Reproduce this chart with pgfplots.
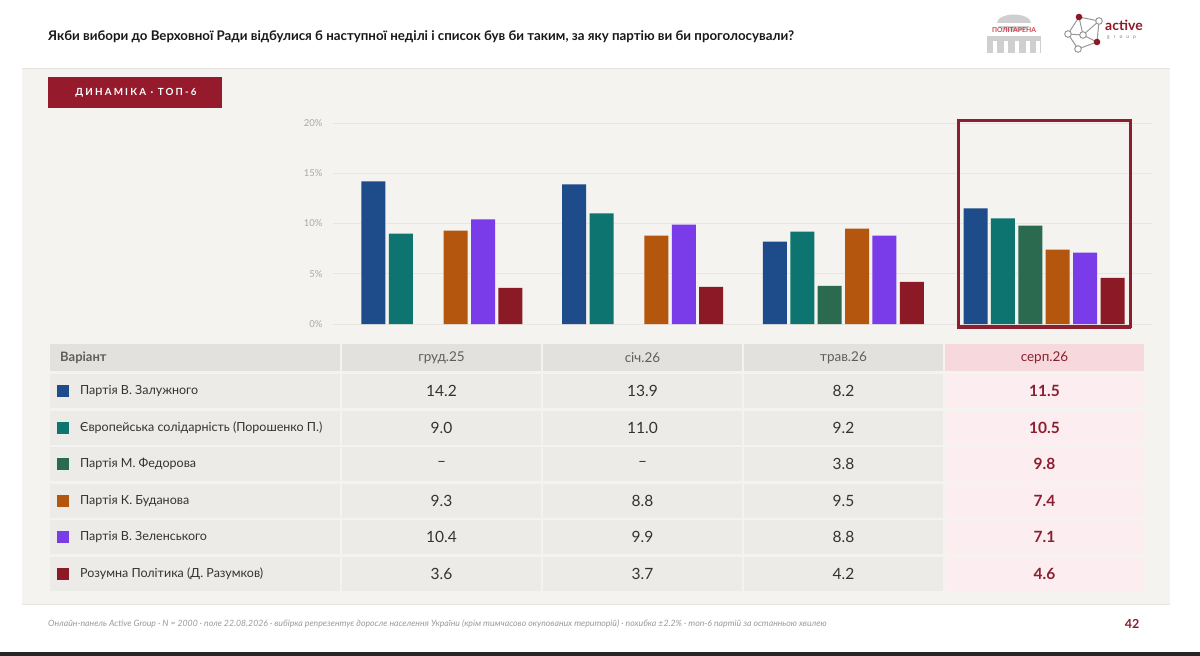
\documentclass[border=0pt]{standalone}
\usepackage{fontspec}
\setmainfont{Lato}
\usepackage{pgfplots}
\pgfplotsset{compat=1.18}
\definecolor{zal}{HTML}{1E4B8A}
\definecolor{por}{HTML}{0E7470}
\definecolor{fed}{HTML}{2C6A4F}
\definecolor{bud}{HTML}{B5560F}
\definecolor{zel}{HTML}{7A3BE8}
\definecolor{raz}{HTML}{8C1A26}
\definecolor{accent}{HTML}{951B2C}
\definecolor{boxred}{HTML}{8B1E2F}
\definecolor{panel}{HTML}{F4F3F0}
\definecolor{panelline}{HTML}{E6E4E0}
\definecolor{cell}{HTML}{ECEBE8}
\definecolor{headcell}{HTML}{E3E1DE}
\definecolor{pinkhead}{HTML}{F6D8DD}
\definecolor{pinkcell}{HTML}{FCEEF0}
\definecolor{tickgray}{HTML}{ABA8A4}
\definecolor{gridgray}{HTML}{E8E6E2}
\definecolor{txt}{HTML}{333333}
\definecolor{headtxt}{HTML}{5E5E5E}
\definecolor{foot}{HTML}{9A9A9A}
\definecolor{logogray}{HTML}{CFCFCF}
\definecolor{logored}{HTML}{D04450}
\begin{document}
\begin{tikzpicture}
\begin{scope}[x=1pt,y=-1pt]
\path[use as bounding box] (0,0) rectangle (1200,656);
\fill[white] (0,0) rectangle (1200,656);
% title
\node[anchor=west,inner sep=0,text=black!90] at (48,37) {\fontsize{13.3}{15}\selectfont\bfseries Якби вибори до Верховної Ради відбулися б наступної неділі і список був би таким, за яку партію ви би проголосували?};
% logo politarena
\fill[logogray] (1014,23) ellipse (17 and 8.5);
\fill[white] (988,23) rectangle (1040,26);
\node[inner sep=0,text=logored] at (1014,30.5) {\fontsize{6.8}{7}\selectfont\bfseries ПОЛІТАРЕНА};
\fill[logogray] (987,36) rectangle (1041,53);
\foreach \cx in {993,1004,1015,1026,1036} {\fill[white] (\cx,41) rectangle (\cx+4,53);}
% logo active
\draw[gray!80,line width=1pt] (1079,17) -- (1099,21) -- (1097,42) -- (1078,49) -- (1068,34) -- cycle;
\draw[gray!80,line width=1pt] (1079,17) -- (1083,35) -- (1099,21) (1083,35) -- (1097,42) (1083,35) -- (1068,34);
\foreach \p in {(1099,21),(1083,35),(1068,34),(1078,49)} {\filldraw[fill=white,draw=gray!80,line width=1pt] \p circle (3.3);}
\fill[raz] (1079,17) circle (3.3);
\fill[raz] (1097,42) circle (3.3);
\node[anchor=west,inner sep=0,text=raz] at (1105,25) {\fontsize{14}{15}\selectfont\bfseries active};
\node[anchor=west,inner sep=0,text=gray] at (1107,37.5) {\fontsize{5}{6}\selectfont\addfontfeatures{LetterSpace=80}group};
% panel
\fill[panel] (22,68) rectangle (1170,604);
\draw[panelline,line width=1pt] (22,68) -- (1170,68);
\draw[panelline,line width=1pt] (22,604) -- (1170,604);
% badge
\fill[accent] (48,77) rectangle (222,108);
\node[inner sep=0,text=white] at (136,92.5) {\fontsize{9.8}{10}\selectfont\bfseries\addfontfeatures{LetterSpace=22}ДИНАМІКА · ТОП-6};
% table header
\fill[headcell] (50,344) rectangle (340,371);
\foreach \xa/\xb in {342/541,543/742,744/943} {\fill[headcell] (\xa,344) rectangle (\xb,371);}
\fill[pinkhead] (945,344) rectangle (1144,371);
\node[anchor=west,inner sep=0,text=headtxt] at (60,357.5) {\fontsize{13}{14}\selectfont\bfseries Варіант};
\node[inner sep=0,text=headtxt] at (441.5,357.5) {\fontsize{13.5}{14}\selectfont груд.25};
\node[inner sep=0,text=headtxt] at (642.5,357.5) {\fontsize{13.5}{14}\selectfont січ.26};
\node[inner sep=0,text=headtxt] at (843.5,357.5) {\fontsize{13.5}{14}\selectfont трав.26};
\node[inner sep=0,text=boxred] at (1044.5,357.5) {\fontsize{13.5}{14}\selectfont серп.26};
% table rows
\foreach \i/\c/\name/\va/\vb/\vc/\vd in {
 0/zal/Партія В. Залужного/14.2/13.9/8.2/11.5,
 1/por/Європейська солідарність (Порошенко П.)/9.0/11.0/9.2/10.5,
 2/fed/Партія М. Федорова/–/–/3.8/9.8,
 3/bud/Партія К. Буданова/9.3/8.8/9.5/7.4,
 4/zel/Партія В. Зеленського/10.4/9.9/8.8/7.1,
 5/raz/Розумна Політика (Д. Разумков)/3.6/3.7/4.2/4.6} {
  \pgfmathsetmacro{\yc}{391+36.6*\i}
  \fill[cell] (50,\yc-17) rectangle (340,\yc+17);
  \foreach \xa/\xb in {342/541,543/742,744/943} {\fill[cell] (\xa,\yc-17) rectangle (\xb,\yc+17);}
  \fill[pinkcell] (945,\yc-17) rectangle (1144,\yc+17);
  \fill[\c] (57,\yc-6) rectangle (69,\yc+6);
  \node[anchor=west,inner sep=0,text=txt] at (80,\yc) {\fontsize{12.5}{14}\selectfont \name};
  \node[inner sep=0,text=txt] at (441.5,\yc) {\fontsize{15.5}{16}\selectfont \va};
  \node[inner sep=0,text=txt] at (642.5,\yc) {\fontsize{15.5}{16}\selectfont \vb};
  \node[inner sep=0,text=txt] at (843.5,\yc) {\fontsize{15.5}{16}\selectfont \vc};
  \node[inner sep=0,text=boxred] at (1044.5,\yc) {\fontsize{15.5}{16}\selectfont\bfseries \vd};
}
% footer
\node[anchor=west,inner sep=0,text=foot] at (48,624) {\fontsize{8.7}{9}\selectfont\itshape Онлайн-панель Active Group · N = 2000 · поле 22.08.2026 · вибірка репрезентує доросле населення України (крім тимчасово окупованих територій) · похибка ±2.2\% · топ-6 партій за останньою хвилею};
\node[inner sep=0,text=boxred] at (1132,624) {\fontsize{12.5}{13}\selectfont\bfseries 42};
\fill[black!85] (0,652) rectangle (1200,656);
\end{scope}
\begin{axis}[
  at={(333pt,-324pt)}, anchor=south west,
  scale only axis, width=819pt, height=201pt,
  xmin=-0.543, xmax=3.538, ymin=0, ymax=20,
  enlargelimits=false,
  ybar=3.4pt, bar width=24pt,
  axis line style={draw=none},
  xtick=\empty,
  ytick={0,5,10,15,20},
  yticklabel={\pgfmathprintnumber{\tick}\%},
  yticklabel style={font=\fontsize{9.5}{10}\selectfont, text=tickgray, xshift=-7pt, /pgf/number format/assume math mode=true},
  major tick length=0pt,
  ymajorgrids, grid style={gridgray, line width=0.8pt},
]
\addplot[fill=zal, draw=none] coordinates {(0,14.2) (1,13.9) (2,8.2) (3,11.5)};
\addplot[fill=por, draw=none] coordinates {(0,9.0) (1,11.0) (2,9.2) (3,10.5)};
\addplot[fill=fed, draw=none] coordinates {(2,3.8) (3,9.8)};
\addplot[fill=bud, draw=none] coordinates {(0,9.3) (1,8.8) (2,9.5) (3,7.4)};
\addplot[fill=zel, draw=none] coordinates {(0,10.4) (1,9.9) (2,8.8) (3,7.1)};
\addplot[fill=raz, draw=none] coordinates {(0,3.6) (1,3.7) (2,4.2) (3,4.6)};
\end{axis}
\begin{scope}[x=1pt,y=-1pt]
\draw[boxred, line width=3pt] (958,120) rectangle (1130,326.5);
\draw[boxred, line width=1.5pt] (957,328) -- (1131,328);
\end{scope}
\end{tikzpicture}
\end{document}
